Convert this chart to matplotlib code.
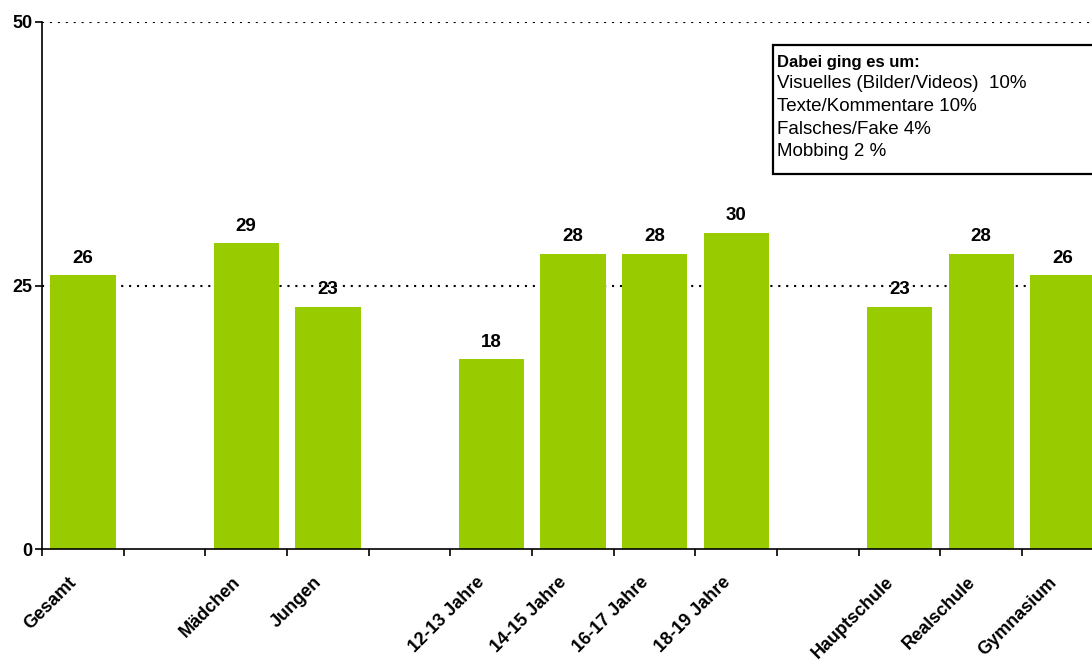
import matplotlib.pyplot as plt
from matplotlib.patches import Rectangle

plt.rcParams['font.family'] = ['Liberation Sans', 'DejaVu Sans']

# slot positions with empty gaps between groups
positions = [0, 2, 3, 5, 6, 7, 8, 10, 11, 12]
labels = ['Gesamt', 'Mädchen', 'Jungen', '12-13 Jahre', '14-15 Jahre',
          '16-17 Jahre', '18-19 Jahre', 'Hauptschule', 'Realschule', 'Gymnasium']
values = [26, 29, 23, 18, 28, 28, 30, 23, 28, 26]

box_title = 'Dabei ging es um:'
box_lines = ['Visuelles (Bilder/Videos)  10%', 'Texte/Kommentare 10%',
             'Falsches/Fake 4%', 'Mobbing 2 %']

fig = plt.figure(figsize=(10.92, 6.62), dpi=100)
ax = fig.add_axes([42 / 1092, 1 - 549 / 662, 1 - 42 / 1092, (549 - 22) / 662])

ax.bar(positions, values, width=0.8, color='#99CC00', zorder=2)
for x, v in zip(positions, values):
    ax.text(x, v + 0.8, str(v), ha='center', va='bottom',
            fontsize=13.5, fontweight='bold', zorder=3)

ax.set_yticks([0, 25, 50])
ax.set_yticklabels(['0', '25', '50'], fontsize=13, fontweight='bold')
for y in [25, 50]:
    ax.axhline(y, color='black', linestyle=(0, (1, 2.8)), linewidth=1.5, zorder=1)

# boundary ticks on the category axis; labels on invisible minor ticks,
# nudged a little left of the slot centres
ax.set_xticks([i + 0.5 for i in range(-1, 13)])
ax.set_xticklabels([])
ax.set_xticks([p - 0.18 for p in positions], minor=True)
ax.set_xticklabels(labels, minor=True, rotation=45, ha='right',
                   rotation_mode='anchor', fontsize=13, fontweight='bold')
ax.tick_params(axis='x', which='minor', length=0, pad=18)
ax.tick_params(axis='x', which='major', length=5, width=1.2, direction='out')
ax.tick_params(axis='y', length=5, width=1.2, pad=2)

ax.set_ylim(0, 50)
ax.set_xlim(-0.5, -0.5 + 1050 / 81.67)

for s in ['top', 'right']:
    ax.spines[s].set_visible(False)
for s in ['left', 'bottom']:
    ax.spines[s].set_linewidth(1.2)

# note box in the upper right, running off the right edge
ax.add_patch(Rectangle((0.6962, 0.7116), 0.4, 0.2448, transform=ax.transAxes,
                       facecolor='white', edgecolor='black', linewidth=1.6,
                       clip_on=False, zorder=4))
ax.text(0.7, 0.924, box_title, transform=ax.transAxes, va='center', ha='left',
        fontsize=12, fontweight='bold', zorder=5)
for i, line in enumerate(box_lines):
    ax.text(0.7, 0.8824 - i * 0.0428, line, transform=ax.transAxes,
            va='center', ha='left', fontsize=13.5, zorder=5)

plt.savefig('out.png', dpi=100)
